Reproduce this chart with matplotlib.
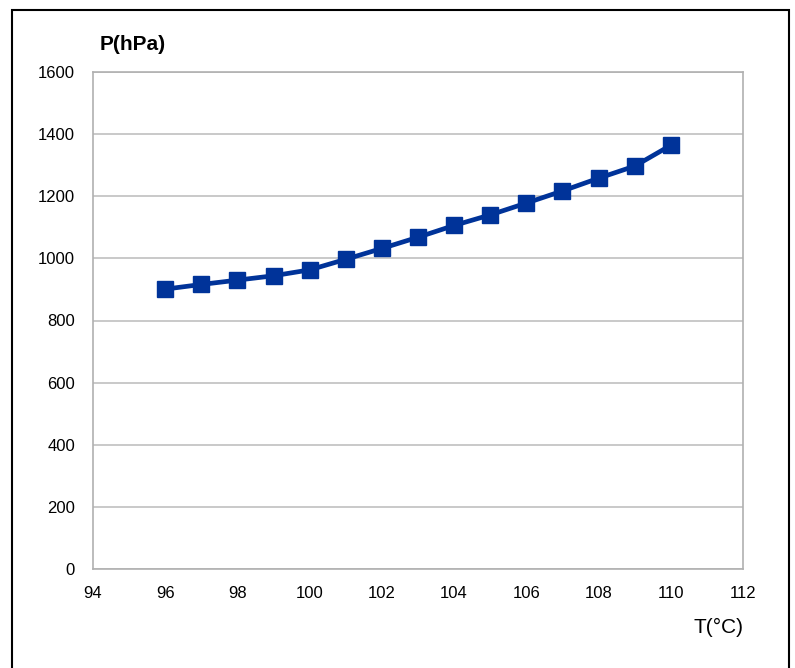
import matplotlib
matplotlib.use("Agg")
from matplotlib import pyplot as plt
from matplotlib.patches import Rectangle

# temperature (degC) and pressure (hPa)
temps = [96, 97, 98, 99, 100, 101, 102, 103, 104, 105, 106, 107, 108, 109, 110]
pressure = [901, 916, 930, 944, 963, 997, 1032, 1068, 1106, 1140, 1178, 1217, 1258, 1297, 1364]

x_ticks = [94, 96, 98, 100, 102, 104, 106, 108, 110, 112]
y_ticks = [0, 200, 400, 600, 800, 1000, 1200, 1400, 1600]

plt.rcParams['font.family'] = ['Liberation Sans', 'DejaVu Sans']

fig = plt.figure(figsize=(7.95, 6.68), dpi=100)
ax = fig.add_axes([93/795, 1 - 569/668, (743 - 93)/795, (569 - 72)/668])

ax.plot(temps, pressure, color="#003399", linewidth=3.4,
        marker="s", markersize=11.5, markerfacecolor="#003399",
        markeredgecolor="#003399")

ax.set_xlim(94, 112)
ax.set_ylim(0, 1600)
ax.set_xticks(x_ticks)
ax.set_yticks(y_ticks)
ax.tick_params(length=0, labelsize=12)
ax.tick_params(axis='x', pad=12)
ax.tick_params(axis='y', pad=13)
ax.yaxis.grid(True, color="#c0c0c0", linewidth=1.2)
ax.set_axisbelow(True)
for s in ax.spines.values():
    s.set_color("#b0b0b0")
    s.set_linewidth(1.2)

fig.text(100/795, 1 - 45/668, "P(hPa)", fontsize=15, fontweight='bold',
         ha='left', va='center')
fig.text(743/795, 1 - 627/668, "T(°C)", fontsize=15,
         ha='right', va='center')

# black frame around the chart
fig.patches.append(Rectangle((12/795, -0.05), (789 - 12)/795, 1.05 - 10/668,
                             transform=fig.transFigure, fill=False,
                             edgecolor="black", linewidth=1.5))

fig.savefig("out.png", dpi=100)
